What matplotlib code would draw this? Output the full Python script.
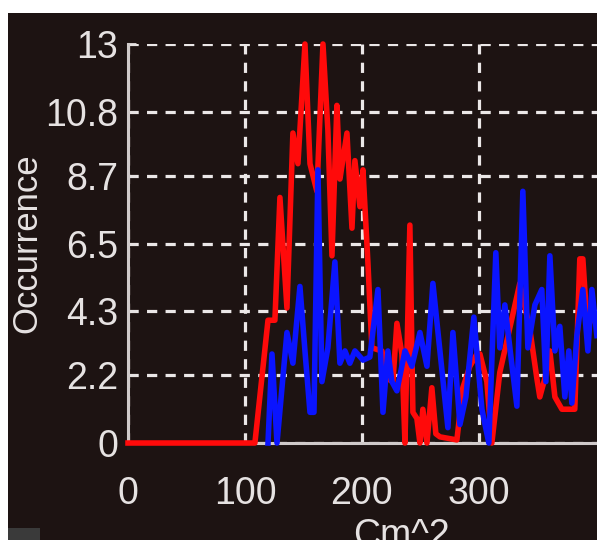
import matplotlib
matplotlib.use("Agg")
from matplotlib import pyplot as plt
from matplotlib.patches import Rectangle

# values (x in Cm^2, y = occurrence)
red_x = [0, 108.5, 119.7, 125.6, 129.9, 135.9, 141, 145.3, 151.3, 155.6, 161.5, 166.7, 170.9,
         174.4, 178.6, 181.2, 187.2, 191.5, 194, 198.3, 200.9, 205.1, 208.5, 217.1, 221.4,
         226.5, 229.9, 234.2, 236.8, 241, 243.6, 247, 249.6, 252.1, 255.6, 259.8, 263.2,
         266.7, 281.2, 286.3, 292.3, 298.3, 300.9, 306.8, 311.1, 317.9, 335, 343.6, 349.6,
         352.1, 356.4, 360.7, 365, 371, 377.8, 382, 386.3, 388.9, 392.3, 396.6, 400.9]
red_y = [0, 0, 4.0, 4.0, 8.0, 4.4, 10.1, 9.1, 13, 9.1, 8.2, 13, 10.2,
         6.1, 11.0, 8.6, 10.1, 7.0, 9.2, 7.7, 8.9, 5.9, 3.1, 3.0, 2.1,
         2.0, 3.9, 2.9, 0, 7.1, 1.0, 0.8, 0, 1.1, 0, 1.8, 0.3,
         0.2, 0.1, 1.8, 2.5, 2.9, 2.9, 2.0, 0, 2.3, 5.2, 3.7, 2.1,
         1.5, 2.1, 3.0, 1.5, 1.1, 1.1, 1.1, 6.0, 6.0, 4.0, 4.2, 3.8]

blue_x = [119.7, 123.1, 127.4, 135.9, 141, 147, 151.3, 155.6, 159, 162.4, 165.8, 170.9, 176.9,
          181.2, 185.5, 189.7, 194, 200.9, 206.8, 213.7, 218, 222.2, 225.6, 229.9, 236.8,
          242.7, 249.6, 255.6, 260.7, 266.7, 273.5, 277.8, 283.8, 288.9, 295.7, 302.6, 308.5,
          314.5, 317.9, 322.2, 326.5, 332.5, 337.6, 341.9, 347.9, 353.8, 357.3, 360.7, 365,
          369.2, 373.5, 376.9, 379.5, 383.8, 388.9, 393.2, 396.6, 400.9]
blue_y = [0, 2.9, 0, 3.6, 2.6, 5.1, 3.0, 1.0, 1.0, 8.9, 2.0, 3.1, 5.9,
          2.6, 3.0, 2.6, 3.0, 2.7, 2.8, 5.0, 1.0, 3.0, 2.0, 1.7, 3.0,
          2.5, 3.6, 2.5, 5.2, 3.0, 0.5, 3.6, 0.6, 1.5, 4.1, 1.1, 0,
          6.2, 3.1, 4.5, 3.1, 1.2, 8.2, 3.1, 4.5, 5.0, 2.0, 6.1, 3.0,
          3.8, 1.5, 3.0, 1.3, 3.5, 5.0, 3.0, 5.0, 3.5]

x_ticks = [0, 100, 200, 300]
y_ticks = [0, 2.2, 4.3, 6.5, 8.7, 10.8, 13]
y_ticklabels = ["0", "2.2", "4.3", "6.5", "8.7", "10.8", "13"]

bg = "#1d1312"
fg = "#e6e2e2"
font = ["Liberation Sans", "DejaVu Sans"]

fig = plt.figure(figsize=(5.97, 5.40), dpi=100, facecolor="white")
fig.patches.append(Rectangle((8 / 597, 0), 1, 527 / 540, transform=fig.transFigure,
                             facecolor=bg, edgecolor="none", zorder=-10))
fig.patches.append(Rectangle((8 / 597, 0), 32 / 597, 12 / 540, transform=fig.transFigure,
                             facecolor="#3a3a3a", edgecolor="none", zorder=-9))

ax = fig.add_axes([128 / 597, 97 / 540, 469 / 597, 399 / 540])
ax.set_facecolor(bg)
ax.plot(red_x, red_y, color="#ff0a0a", lw=4, zorder=3, clip_on=False)
ax.plot(blue_x, blue_y, color="#0a14ff", lw=4, zorder=4, clip_on=False)

ax.set_xlim(0, 401)
ax.set_ylim(0, 13)
ax.set_xticks(x_ticks)
ax.set_xticklabels([str(t) for t in x_ticks], family=font, fontsize=27, color=fg)
ax.set_yticks(y_ticks)
ax.set_yticklabels(y_ticklabels, family=font, fontsize=27, color=fg)
ax.tick_params(axis="x", direction="in", length=6, width=2, color=fg, pad=24)
ax.tick_params(axis="y", direction="in", length=6, width=2, color=fg, pad=7)

ax.grid(True, color="#ebe7e7", lw=2.3, linestyle=(0, (3.2, 2.6)))
ax.set_axisbelow(True)
for side in ["top", "right"]:
    ax.spines[side].set_visible(False)
for side in ["left", "bottom"]:
    ax.spines[side].set_color("#d0caca")
    ax.spines[side].set_linewidth(2.2)

ax.set_ylabel("Occurrence", family=font, fontsize=25, color=fg)
ax.yaxis.set_label_coords(-0.181, 0.5)
ax.set_xlabel("Cm^2", family=font, fontsize=27, color=fg)
ax.xaxis.set_label_coords(0.584, -0.188)

plt.savefig("out.png", dpi=100, facecolor="white")
plt.close()
